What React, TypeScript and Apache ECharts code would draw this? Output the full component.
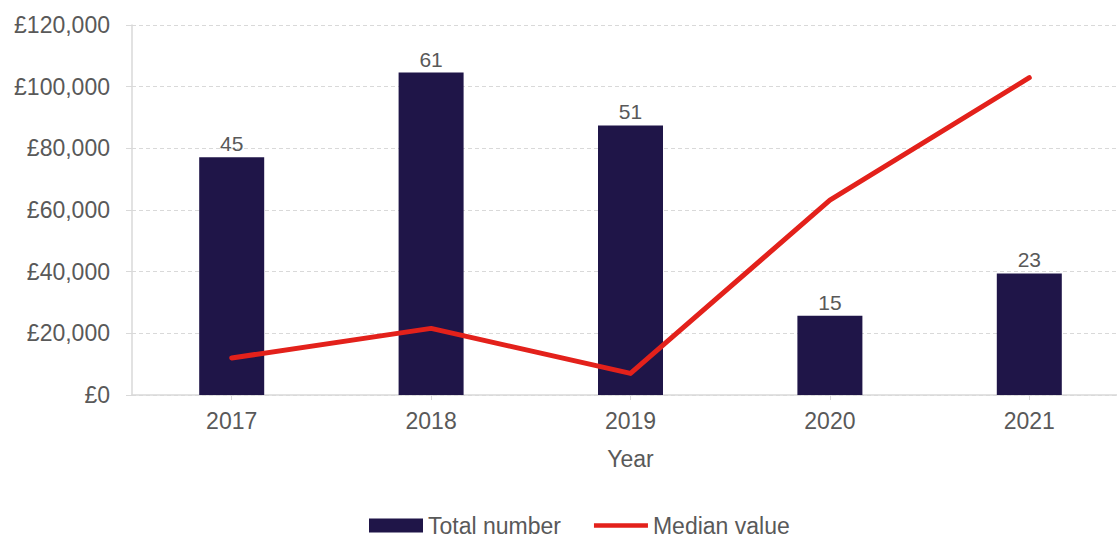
import React, { useEffect, useRef } from "react";
import * as echarts from "echarts";

const years = ["2017", "2018", "2019", "2020", "2021"];
const totalNumber = [45, 61, 51, 15, 23];
const medianValue = [12000, 21600, 7000, 63200, 102900];

const TEXT = "#595959";
const FONT = "'Liberation Sans', Arial, sans-serif";

export default function App() {
  const ref = useRef<HTMLDivElement>(null);
  useEffect(() => {
    if (!ref.current) return;
    const chart = echarts.init(ref.current, undefined, { renderer: "svg" });
    chart.setOption({
      animation: false,
      backgroundColor: "#ffffff",
      textStyle: { fontFamily: FONT },
      grid: { left: 132, right: 1, top: 25, bottom: 143, containLabel: false },
      legend: {
        left: 364,
        top: 509,
        itemWidth: 54,
        itemHeight: 14,
        itemGap: 33,
        textStyle: { color: TEXT, fontSize: 23, fontFamily: FONT },
        data: [
          { name: "Total number", icon: "rect" },
          { name: "Median value", icon: "path://M0,0 L57,0 L57,5 L0,5 Z" },
        ],
      },
      xAxis: {
        type: "category",
        data: years,
        boundaryGap: true,
        name: "Year",
        nameLocation: "middle",
        nameGap: 52,
        nameTextStyle: { color: TEXT, fontSize: 23, fontFamily: FONT },
        axisLine: { show: true, lineStyle: { color: "#d9d9d9", width: 1.5 } },
        axisTick: { show: true, alignWithLabel: true, length: 5, lineStyle: { color: "#d9d9d9" } },
        axisLabel: { color: TEXT, fontSize: 23, margin: 14, fontFamily: FONT },
        splitLine: { show: false },
      },
      yAxis: [
        {
          type: "value",
          min: 0,
          max: 120000,
          interval: 20000,
          axisLine: { show: true, lineStyle: { color: "#d9d9d9", width: 1.5 } },
          axisTick: { show: true, length: 6, lineStyle: { color: "#d9d9d9" } },
          axisLabel: {
            color: TEXT,
            fontSize: 23,
            margin: 22,
            fontFamily: FONT,
            formatter: (v: number) => "£" + v.toLocaleString("en-GB"),
          },
          splitLine: { show: true, lineStyle: { color: "#d9d9d9", type: [4, 3], width: 1.2 } },
        },
        {
          type: "value",
          min: 0,
          max: 70,
          show: false,
          splitLine: { show: false },
        },
      ],
      series: [
        {
          name: "Total number",
          type: "bar",
          yAxisIndex: 1,
          data: totalNumber,
          barWidth: 65,
          itemStyle: { color: "#1f1548" },
          label: {
            show: true,
            position: "top",
            distance: 3,
            color: TEXT,
            fontSize: 21,
            fontFamily: FONT,
          },
        },
        {
          name: "Median value",
          type: "line",
          yAxisIndex: 0,
          data: medianValue,
          symbol: "none",
          lineStyle: { color: "#e3211b", width: 5, cap: "round", join: "round" },
          itemStyle: { color: "#e3211b" },
        },
      ],
    });
    return () => chart.dispose();
  }, []);
  return (
    <div
      style={{
        position: "fixed",
        left: 0,
        top: 0,
        width: 1117,
        height: 538,
        overflow: "hidden",
        background: "#fff",
      }}
    >
      <div ref={ref} style={{ width: 1130, height: 538 }} />
    </div>
  );
}
